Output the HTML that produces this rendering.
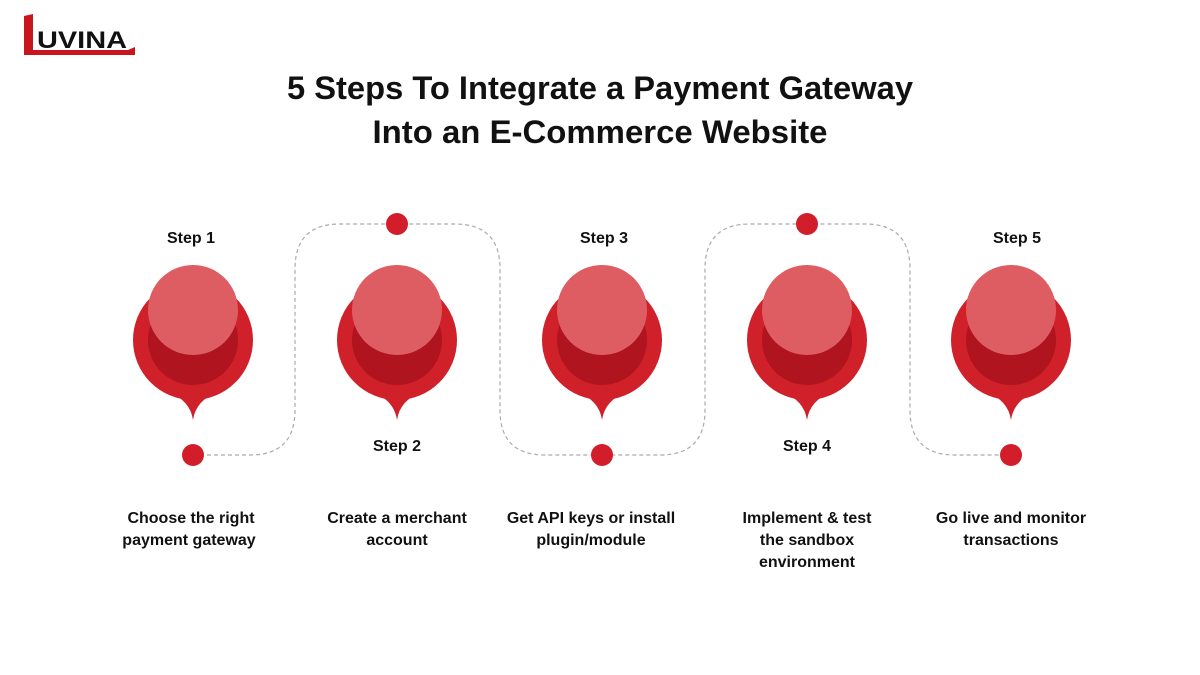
<!DOCTYPE html>
<html><head><meta charset="utf-8"><style>
html,body{margin:0;padding:0;background:#fff;}
body{width:1200px;height:675px;overflow:hidden;position:relative;font-family:"Liberation Sans",sans-serif;}
</style></head><body>
<svg width="1200" height="675" viewBox="0 0 1200 675" xmlns="http://www.w3.org/2000/svg" style="position:absolute;left:0;top:0">
<!-- logo -->
<polygon points="24,16 33,14 33,50 128,50 135,47 135,55 24,55" fill="#c8161e"/>
<text x="37" y="48" font-family="Liberation Sans, sans-serif" font-weight="bold" font-size="24" fill="#111" textLength="90" lengthAdjust="spacingAndGlyphs">UVINA</text>
<!-- title -->
<text x="600" y="99" text-anchor="middle" font-family="Liberation Sans, sans-serif" font-weight="bold" font-size="32" fill="#111" textLength="626" lengthAdjust="spacingAndGlyphs">5 Steps To Integrate a Payment Gateway</text>
<text x="600" y="143" text-anchor="middle" font-family="Liberation Sans, sans-serif" font-weight="bold" font-size="32" fill="#111" textLength="455" lengthAdjust="spacingAndGlyphs">Into an E-Commerce Website</text>
<!-- connector -->
<path d="M193,455 H250 Q295,455 295,410 V269 Q295,224 340,224 H455 Q500,224 500,269 V410 Q500,455 545,455 H660 Q705,455 705,410 V269 Q705,224 750,224 H865 Q910,224 910,269 V410 Q910,455 955,455 H1011" fill="none" stroke="#aaa" stroke-width="1.2" stroke-dasharray="4,3"/>
<g fill="#d21e2a">
<circle cx="193" cy="455" r="11"/><circle cx="397" cy="224" r="11"/><circle cx="602" cy="455" r="11"/><circle cx="807" cy="224" r="11"/><circle cx="1011" cy="455" r="11"/>
</g>
<g font-family="Liberation Sans, sans-serif" font-weight="bold" font-size="16" fill="#111" text-anchor="middle">
<text x="191" y="243">Step 1</text>
<text x="397" y="451">Step 2</text>
<text x="604" y="243">Step 3</text>
<text x="807" y="451">Step 4</text>
<text x="1017" y="243">Step 5</text>
<text x="191" y="523">Choose the right</text><text x="189" y="545">payment gateway</text>
<text x="397" y="523">Create a merchant</text><text x="397" y="545">account</text>
<text x="591" y="523">Get API keys or install</text><text x="591" y="545">plugin/module</text>
<text x="807" y="523">Implement &amp; test</text><text x="807" y="545">the sandbox</text><text x="807" y="567">environment</text>
<text x="1011" y="523">Go live and monitor</text><text x="1011" y="545">transactions</text>
</g>
<!-- pins -->
<g>
<path d="M168,392 Q190,400 193,420 Q196,400 218,392 Z" fill="#d0202a"/><circle cx="193" cy="340" r="60" fill="#d0202a"/><circle cx="193" cy="340" r="45" fill="#b0141e"/><circle cx="193" cy="310" r="45" fill="#de5d63"/>
<path d="M372,392 Q394,400 397,420 Q400,400 422,392 Z" fill="#d0202a"/><circle cx="397" cy="340" r="60" fill="#d0202a"/><circle cx="397" cy="340" r="45" fill="#b0141e"/><circle cx="397" cy="310" r="45" fill="#de5d63"/>
<path d="M577,392 Q599,400 602,420 Q605,400 627,392 Z" fill="#d0202a"/><circle cx="602" cy="340" r="60" fill="#d0202a"/><circle cx="602" cy="340" r="45" fill="#b0141e"/><circle cx="602" cy="310" r="45" fill="#de5d63"/>
<path d="M782,392 Q804,400 807,420 Q810,400 832,392 Z" fill="#d0202a"/><circle cx="807" cy="340" r="60" fill="#d0202a"/><circle cx="807" cy="340" r="45" fill="#b0141e"/><circle cx="807" cy="310" r="45" fill="#de5d63"/>
<path d="M986,392 Q1008,400 1011,420 Q1014,400 1036,392 Z" fill="#d0202a"/><circle cx="1011" cy="340" r="60" fill="#d0202a"/><circle cx="1011" cy="340" r="45" fill="#b0141e"/><circle cx="1011" cy="310" r="45" fill="#de5d63"/>
</g>
</svg>
</body></html>
